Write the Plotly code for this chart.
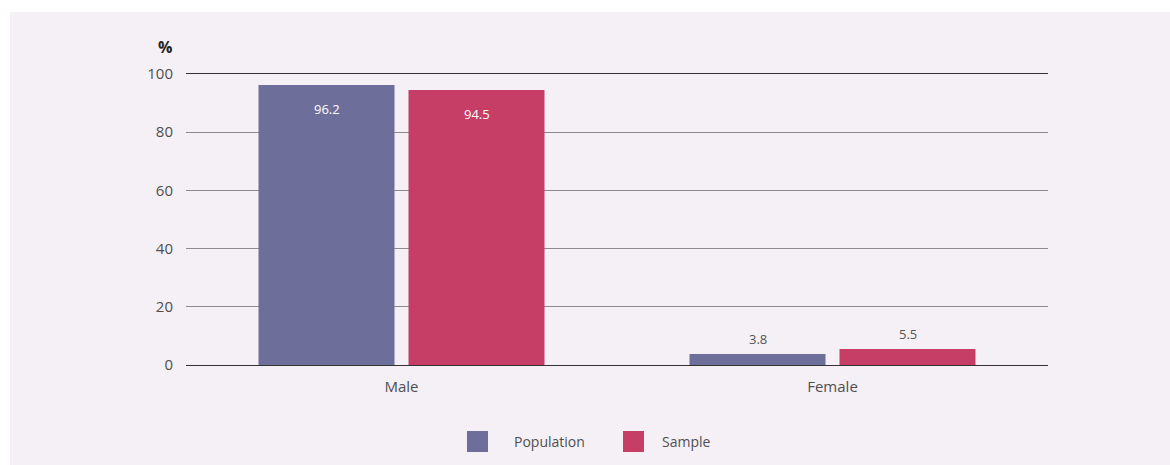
import plotly.graph_objects as go

categories = ["Male", "Female"]
series_names = ["Population", "Sample"]
population = [96.2, 3.8]
sample = [94.5, 5.5]
colors = ["#6e6e9a", "#c63d66"]
y_ticks = [0, 20, 40, 60, 80, 100]

W, H = 1170, 465
L, R, T, B = 186, 122, 74, 100
pw, ph = W - L - R, H - T - B

def px_x(p):
    return (p - L) / pw

def px_y(p):
    return (H - B - p) / ph

font_family = "Open Sans, Noto Sans, sans-serif"

fig = go.Figure()
values = [population, sample]
for name, vals, col in zip(series_names, values, colors):
    fig.add_trace(go.Bar(name=name, x=categories, y=vals, marker_color=col,
                         marker_line_width=0, showlegend=False, hoverinfo="x+y"))

annotations = []
offsets = [-75, 75]
for vals, off in zip(values, offsets):
    for cat, v in zip(categories, vals):
        if v > 50:
            annotations.append(dict(x=cat, y=v, xref="x", yref="y", text=f"{v:.1f}",
                                    showarrow=False, yanchor="top", yshift=-13, xshift=off,
                                    font=dict(family=font_family, size=13, color="#ffffff")))
        else:
            annotations.append(dict(x=cat, y=v, xref="x", yref="y", text=f"{v:.1f}",
                                    showarrow=False, yanchor="bottom", yshift=4, xshift=off,
                                    font=dict(family=font_family, size=13, color="#555555")))

annotations.append(dict(x=px_x(165), y=px_y(47), xref="paper", yref="paper", text="<b>%</b>",
                        showarrow=False, xanchor="center", yanchor="middle",
                        font=dict(family=font_family, size=16, color="#222222")))

shapes = [dict(type="rect", xref="paper", yref="paper", x0=px_x(10), x1=px_x(1170),
               y0=px_y(465), y1=px_y(12), fillcolor="#f5f0f6", line_width=0, layer="below")]

legend_boxes = [(467, 512), (623, 660)]
for (bx, tx), name, col in zip(legend_boxes, series_names, colors):
    shapes.append(dict(type="rect", xref="paper", yref="paper", x0=px_x(bx), x1=px_x(bx + 21),
                       y0=px_y(452), y1=px_y(431), fillcolor=col, line_width=0))
    annotations.append(dict(x=px_x(tx), y=px_y(441.5), xref="paper", yref="paper", text=name,
                            showarrow=False, xanchor="left", yanchor="middle",
                            font=dict(family=font_family, size=14, color="#4f4f4f")))

fig.update_layout(
    width=W, height=H,
    margin=dict(l=L, r=R, t=T, b=B, pad=0),
    paper_bgcolor="#ffffff",
    plot_bgcolor="rgba(0,0,0,0)",
    barmode="group",
    bargap=0.304,
    bargroupgap=0.0933,
    font=dict(family=font_family, size=15, color="#4f4f4f"),
    annotations=annotations,
    shapes=shapes,
    showlegend=False,
    xaxis=dict(showgrid=False, showline=True, mirror=True, linecolor="#333333", linewidth=1,
               ticks="", ticklabelstandoff=8, tickfont=dict(size=15, color="#4f4f4f")),
    yaxis=dict(range=[0, 100], tickvals=y_ticks, showgrid=True, gridcolor="#8c8c8c", gridwidth=1,
               zeroline=False, showline=False, ticks="", ticklabelstandoff=12,
               tickfont=dict(size=15, color="#4f4f4f")),
)

fig.write_html("out.html")
